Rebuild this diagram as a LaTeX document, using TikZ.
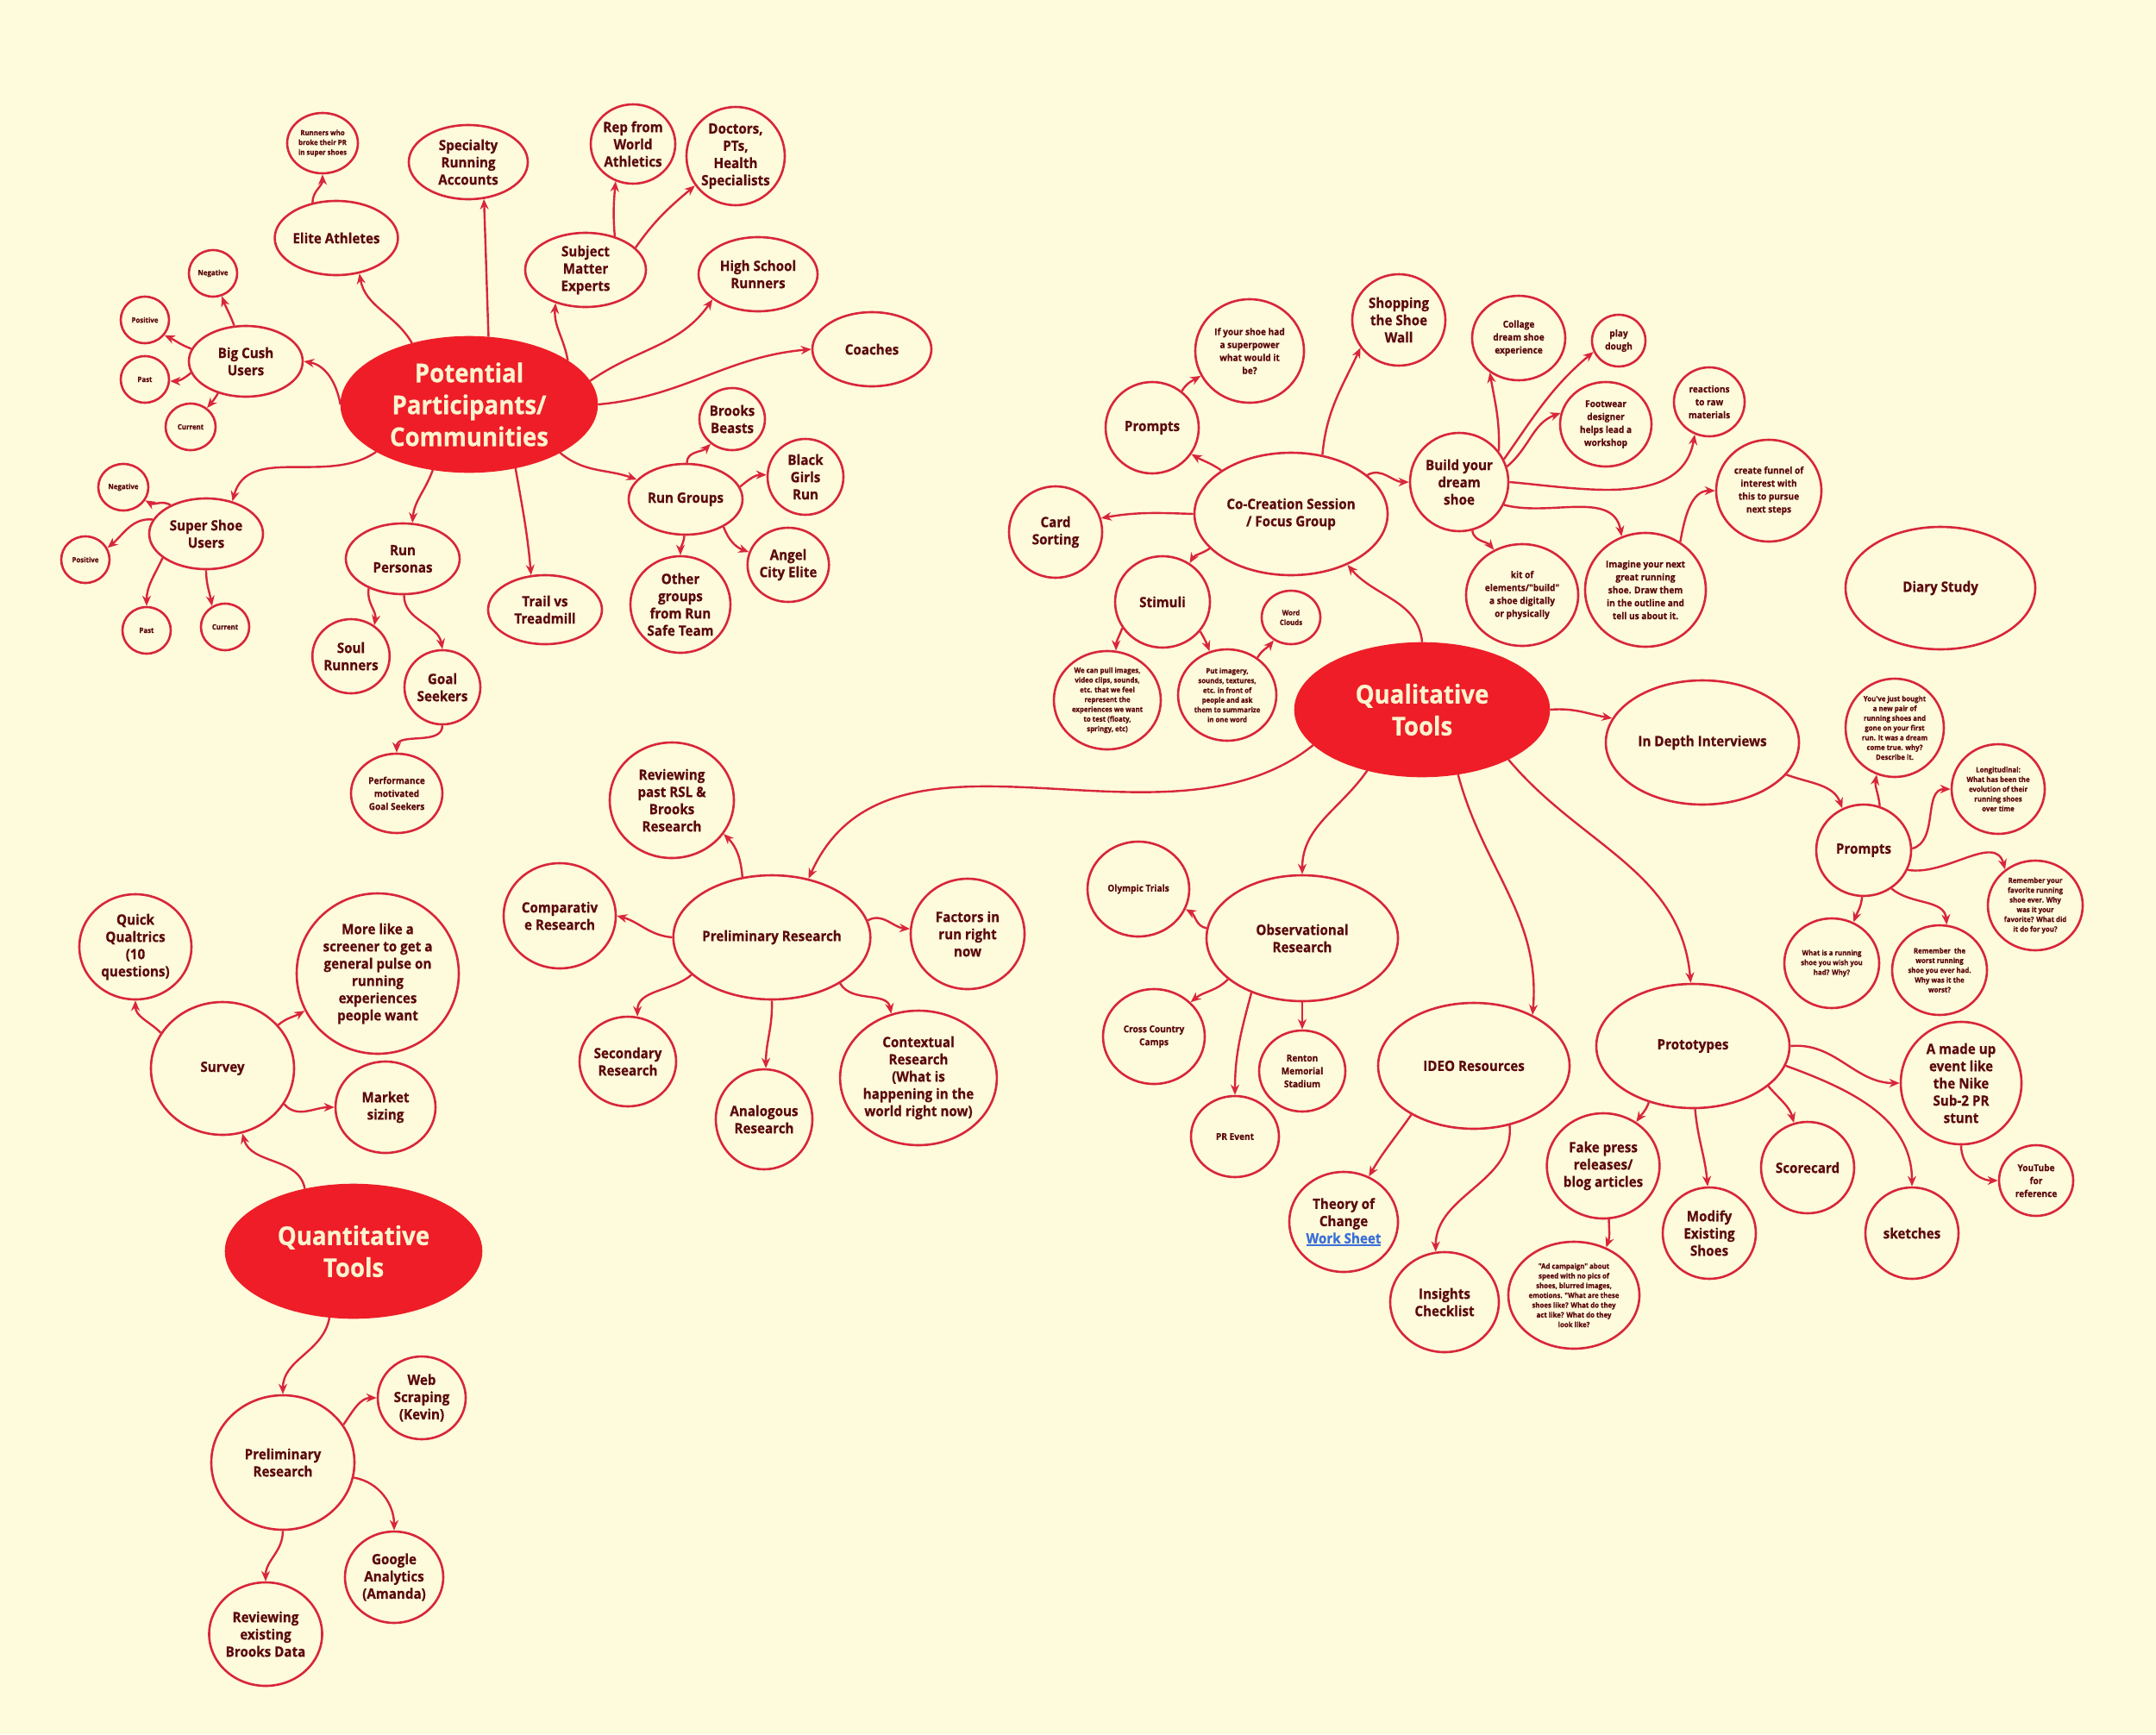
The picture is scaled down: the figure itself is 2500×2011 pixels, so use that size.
\documentclass[tikz,border=0pt]{standalone}
\usepackage{fontspec}
\usetikzlibrary{shapes.geometric,arrows.meta}
\newfontfamily\mapfont{Open Sans}[FakeStretch=0.92, FakeBold=0.6]
\definecolor{bg}{HTML}{FEFADC}
\definecolor{edge}{HTML}{D8263A}
\definecolor{hubred}{HTML}{EE1D27}
\definecolor{ink}{HTML}{5A0A0E}
\definecolor{cream}{HTML}{FDF3CF}
\definecolor{linkblue}{HTML}{3A6FD8}
\newcommand\linkline[1]{\leavevmode\setbox0\hbox{#1}\rlap{\rule[-2.8pt]{\wd0}{1.4pt}}\box0}
\newcommand\fbig{\mapfont\bfseries\fontsize{30}{37}\selectfont}
\newcommand\fmed{\mapfont\bfseries\fontsize{16.5}{20}\selectfont}
\newcommand\fsml{\mapfont\bfseries\fontsize{11}{15}\selectfont}
\newcommand\ftny{\mapfont\bfseries\fontsize{8.5}{11.3}\selectfont}
\tikzset{
  >={Stealth[length=12pt,width=10pt]},
  bub/.style 2 args={ellipse, draw=edge, line width=2.6pt, minimum width=#1pt, minimum height=#2pt,
                     inner sep=0pt, align=center, text=ink, font=\fmed},
  hub/.style 2 args={bub={#1}{#2}, fill=hubred, draw=hubred, text=cream, font=\fbig},
  sml/.style={font=\fsml},
  tny/.style={font=\ftny},
  flow/.style={->, draw=edge, line width=2.4pt}
}
\begin{document}
\begin{tikzpicture}[x=1pt, y=1pt]
\path[use as bounding box, fill=bg] (0,0) rectangle (2500,-2011);

\node[hub={296}{156}] (pp) at (544,-469) {Potential\\Participants/\\Communities};
\node[bub={82}{70}, tny] (runpr) at (374,-166) {Runners who\\broke their PR\\in super shoes};
\node[bub={138}{86}] (spec) at (543,-188) {Specialty\\Running\\Accounts};
\node[bub={94}{92}] (rep) at (734,-167) {Rep from\\World\\Athletics};
\node[bub={114}{114}] (doc) at (853,-181) {Doctors,\\PTs,\\Health\\Specialists};
\node[bub={140}{86}] (elite) at (390,-276) {Elite Athletes};
\node[bub={140}{86}] (sme) at (679,-313) {Subject\\Matter\\Experts};
\node[bub={138}{86}] (hs) at (879,-318) {High School\\Runners};
\node[bub={138}{86}] (coach) at (1011,-405) {Coaches};
\node[bub={132}{82}] (bc) at (285,-419) {Big Cush\\Users};
\node[bub={56}{54}, tny] (negbc) at (247,-317) {Negative};
\node[bub={56}{54}, tny] (posbc) at (168,-371) {Positive};
\node[bub={56}{54}, tny] (pastbc) at (168,-440) {Past};
\node[bub={58}{54}, tny] (curbc) at (221,-495) {Current};
\node[bub={132}{82}] (ss) at (239,-619) {Super Shoe\\Users};
\node[bub={58}{54}, tny] (negss) at (143,-565) {Negative};
\node[bub={56}{54}, tny] (posss) at (99,-649) {Positive};
\node[bub={56}{54}, tny] (pastss) at (170,-731) {Past};
\node[bub={56}{54}, tny] (curss) at (261,-727) {Current};
\node[bub={132}{82}] (rp) at (467,-648) {Run\\Personas};
\node[bub={86}{86}] (soul) at (407,-761) {Soul\\Runners};
\node[bub={88}{86}] (goal) at (513,-797) {Goal\\Seekers};
\node[bub={106}{92}, sml] (perf) at (460,-920) {Performance\\motivated\\Goal Seekers};
\node[bub={132}{80}] (tvt) at (632,-707) {Trail vs\\Treadmill};
\node[bub={132}{82}] (rg) at (795,-579) {Run Groups};
\node[bub={76}{72}] (bb) at (849,-486) {Brooks\\Beasts};
\node[bub={88}{88}] (bgr) at (934,-553) {Black\\Girls\\Run};
\node[bub={90}{86}] (ace) at (914,-655) {Angel\\City Elite};
\node[bub={116}{112}] (og) at (789,-701) {Other\\groups\\from Run\\Safe Team};

\node[hub={294}{154}] (qt) at (1649,-823) {Qualitative\\Tools};
\node[bub={224}{142}] (cc) at (1497,-596) {Co-Creation Session\\/ Focus Group};
\node[bub={108}{106}] (prc) at (1336,-496) {Prompts};
\node[bub={126}{120}, sml] (sup) at (1449,-407) {If your shoe had\\a superpower\\what would it\\be?};
\node[bub={108}{106}] (shop) at (1622,-371) {Shopping\\the Shoe\\Wall};
\node[bub={108}{106}] (card) at (1224,-617) {Card\\Sorting};
\node[bub={110}{106}] (stim) at (1348,-698) {Stimuli};
\node[bub={68}{62}, tny] (wc) at (1497,-716) {Word\\Clouds};
\node[bub={124}{114}, tny] (pull) at (1284,-812) {We can pull images,\\video clips, sounds,\\etc. that we feel\\represent the\\experiences we want\\to test (floaty,\\springy, etc)};
\node[bub={114}{106}, tny] (put) at (1423,-806) {Put imagery,\\sounds, textures,\\etc. in front of\\people and ask\\them to summarize\\in one word};
\node[bub={114}{114}] (build) at (1692,-559) {Build your\\dream\\shoe};
\node[bub={108}{98}, sml] (col) at (1761,-392) {Collage\\dream shoe\\experience};
\node[bub={62}{60}, sml] (play) at (1877,-395) {play\\dough};
\node[bub={106}{98}, sml] (foot) at (1862,-492) {Footwear\\designer\\helps lead a\\workshop};
\node[bub={82}{80}, sml] (react) at (1982,-466) {reactions\\to raw\\materials};
\node[bub={122}{118}, sml] (fun) at (2051,-569) {create funnel of\\interest with\\this to pursue\\next steps};
\node[bub={130}{118}, sml] (kit) at (1765,-690) {kit of\\elements/"build"\\a shoe digitally\\or physically};
\node[bub={140}{132}, sml] (imag) at (1908,-684) {Imagine your next\\great running\\shoe. Draw them\\in the outline and\\tell us about it.};
\node[bub={224}{144}] (idi) at (1974,-861) {In Depth Interviews};
\node[bub={110}{106}] (prm) at (2161,-986) {Prompts};
\node[bub={114}{114}, tny] (you) at (2197,-844) {You've just bought\\a new pair of\\running shoes and\\gone on your first\\run. It was a dream\\come true. why?\\Describe it.};
\node[bub={108}{104}, tny] (long) at (2317,-915) {Longitudinal:\\What has been the\\evolution of their\\running shoes\\over time};
\node[bub={110}{104}, tny] (fav) at (2360,-1050) {Remember your\\favorite running\\shoe ever. Why\\was it your\\favorite? What did\\it do for you?};
\node[bub={110}{104}, tny] (wish) at (2124,-1117) {What is a running\\shoe you wish you\\had? Why?};
\node[bub={110}{104}, tny] (worst) at (2249,-1125) {Remember~ the\\worst running\\shoe you ever had.\\Why was it the\\worst?};
\node[bub={220}{142}] (diary) at (2250,-682) {Diary Study};
\node[bub={222}{146}] (obs) at (1510,-1088) {Observational\\Research};
\node[bub={118}{110}, sml] (oly) at (1320,-1031) {Olympic Trials};
\node[bub={118}{110}, sml] (xc) at (1338,-1202) {Cross Country\\Camps};
\node[bub={100}{94}, sml] (ren) at (1510,-1242) {Renton\\Memorial\\Stadium};
\node[bub={102}{94}, sml] (pre) at (1432,-1318) {PR Event};
\node[bub={222}{146}] (ideo) at (1709,-1236) {IDEO Resources};
\node[bub={126}{116}] (toc) at (1558,-1417) {Theory of\\Change\\\textcolor{linkblue}{\linkline{Work Sheet}}};
\node[bub={126}{116}] (ins) at (1675,-1510) {Insights\\Checklist};
\node[bub={224}{144}] (proto) at (1963,-1213) {Prototypes};
\node[bub={140}{142}] (madeup) at (2274,-1256) {A made up\\event like\\the Nike\\Sub-2 PR\\stunt};
\node[bub={86}{82}, sml] (yt) at (2361,-1369) {YouTube\\for\\reference};
\node[bub={108}{106}] (score) at (2096,-1354) {Scorecard};
\node[bub={108}{106}] (sketch) at (2217,-1430) {sketches};
\node[bub={108}{106}] (mod) at (1982,-1430) {Modify\\Existing\\Shoes};
\node[bub={126}{122}] (fake) at (1859,-1352) {Fake press\\releases/\\blog articles};
\node[bub={152}{124}, tny] (ad) at (1825,-1502) {"Ad campaign" about\\speed with no pics of\\shoes, blurred images,\\emotions. "What are these\\shoes like? What do they\\act like? What do they\\look like?};
\node[bub={220}{144}] (prel) at (895,-1087) {Preliminary Research};
\node[bub={144}{134}] (rev) at (779,-928) {Reviewing\\past RSL \&\\Brooks\\Research};
\node[bub={130}{122}] (comp) at (649,-1062) {Comparativ\\e Research};
\node[bub={132}{128}] (fact) at (1122,-1083) {Factors in\\run right\\now};
\node[bub={112}{104}] (sec) at (728,-1231) {Secondary\\Research};
\node[bub={112}{116}] (ana) at (886,-1298) {Analogous\\Research};
\node[bub={178}{156}] (ctx) at (1065,-1250) {Contextual\\Research\\(What is\\happening in the\\world right now)};

\node[hub={296}{154}] (quant) at (410,-1451) {Quantitative\\Tools};
\node[bub={166}{154}] (survey) at (258,-1239) {Survey};
\node[bub={130}{122}] (qq) at (157,-1098) {Quick\\Qualtrics\\(10\\questions)};
\node[bub={188}{186}] (screen) at (438,-1129) {More like a\\screener to get a\\general pulse on\\running\\experiences\\people want};
\node[bub={116}{106}] (mkt) at (447,-1284) {Market\\sizing};
\node[bub={166}{156}] (qprel) at (328,-1696) {Preliminary\\Research};
\node[bub={102}{96}] (web) at (489,-1621) {Web\\Scraping\\(Kevin)};
\node[bub={114}{106}] (ga) at (457,-1829) {Google\\Analytics\\(Amanda)};
\node[bub={128}{120}] (rbd) at (308,-1895) {Reviewing\\existing\\Brooks Data};

\draw[flow] (pp.133) to[out=120,in=-80] (elite.-57);
\draw[flow] (elite.124) to[out=90,in=-90] (runpr.-90);
\draw[flow] (pp.74) to[out=92,in=-88] (spec.-67);
\draw[flow] (pp.24) to[out=100,in=-95] (sme.-132);
\draw[flow] (sme.49) to[out=95,in=-95] (rep.-115);
\draw[flow] (sme.24) to[out=55,in=-140] (doc.-144);
\draw[flow] (pp.11) to[out=35,in=-125] (hs.-151);
\draw[flow] (pp.0) to[out=5,in=185] (coach.180);
\draw[flow] (pp.180) to[out=100,in=-10] (bc.0);
\draw[flow] (bc.108) to[out=110,in=-70] (negbc.-69);
\draw[flow] (bc.167) to[out=160,in=-25] (posbc.-38);
\draw[flow] (bc.192) to[out=220,in=0] (pastbc.-4);
\draw[flow] (bc.229) to[out=240,in=50] (curbc.49);
\draw[flow] (pp.207) to[out=215,in=75] (ss.51);
\draw[flow] (ss.141) to[out=150,in=-30] (negss.-31);
\draw[flow] (ss.165) to[out=175,in=40] (posss.28);
\draw[flow] (ss.209) to[out=245,in=90] (pastss.90);
\draw[flow] (ss.-90) to[out=-90,in=100] (curss.122);
\draw[flow] (pp.241) to[out=250,in=85] (rp.75);
\draw[flow] (rp.221) to[out=260,in=80] (soul.53);
\draw[flow] (rp.-88) to[out=-90,in=100] (goal.90);
\draw[flow] (goal.-90) to[out=-90,in=90] (perf.90);
\draw[flow] (pp.-54) to[out=-80,in=95] (tvt.112);
\draw[flow] (pp.-28) to[out=-40,in=160] (rg.158);
\draw[flow] (rg.88) to[out=90,in=-135] (bb.-131);
\draw[flow] (rg.13) to[out=40,in=180] (bgr.177);
\draw[flow] (rg.-36) to[out=-70,in=160] (ace.162);
\draw[flow] (rg.-92) to[out=-95,in=90] (og.90);

\draw[flow] (qt.90) to[out=95,in=-50] (cc.-42);
\draw[flow] (cc.148) to[out=145,in=-30] (prc.-34);
\draw[flow] (prc.51) to[out=60,in=-150] (sup.-153);
\draw[flow] (cc.62) to[out=85,in=-115] (shop.-144);
\draw[flow] (cc.180) to[out=178,in=10] (card.17);
\draw[flow] (cc.203) to[out=215,in=60] (stim.55);
\draw[flow] (cc.27) to[out=30,in=180] (build.180);
\draw[flow] (stim.213) to[out=250,in=90] (pull.80);
\draw[flow] (stim.-38) to[out=-60,in=110] (put.112);
\draw[flow] (put.51) to[out=60,in=-130] (wc.-127);
\draw[flow] (build.38) to[out=88,in=-80] (col.-130);
\draw[flow] (build.27) to[out=55,in=-140] (play.-156);
\draw[flow] (build.18) to[out=40,in=-160] (foot.166);
\draw[flow] (build.0) to[out=-5,in=-100] (react.-114);
\draw[flow] (build.-27) to[out=-15,in=100] (imag.114);
\draw[flow] (build.-75) to[out=-80,in=130] (kit.122);
\draw[flow] (imag.54) to[out=80,in=180] (fun.180);
\draw[flow] (qt.0) to[out=5,in=170] (idi.165);
\draw[flow] (idi.-21) to[out=-20,in=110] (prm.117);
\draw[flow] (prm.70) to[out=95,in=-100] (you.-111);
\draw[flow] (prm.2) to[out=15,in=180] (long.180);
\draw[flow] (prm.-24) to[out=-10,in=105] (fav.130);
\draw[flow] (prm.268) to[out=265,in=70] (wish.62);
\draw[flow] (prm.-54) to[out=-40,in=95] (worst.81);
\draw[flow] (qt.228) to[out=235,in=90] (obs.90);
\draw[flow] (obs.174) to[out=170,in=-30] (oly.-23);
\draw[flow] (obs.209) to[out=225,in=40] (xc.43);
\draw[flow] (obs.227) to[out=255,in=90] (pre.90);
\draw[flow] (obs.270) to[out=270,in=90] (ren.90);
\draw[flow] (qt.-61) to[out=-75,in=85] (ideo.41);
\draw[flow] (ideo.218) to[out=235,in=60] (toc.61);
\draw[flow] (ideo.-59) to[out=-85,in=90] (ins.100);
\draw[flow] (qt.-30) to[out=-50,in=95] (proto.92);
\draw[flow] (proto.0) to[out=5,in=180] (madeup.180);
\draw[flow] (proto.-12) to[out=-20,in=90] (sketch.90);
\draw[flow] (proto.-28) to[out=-50,in=105] (score.107);
\draw[flow] (proto.-88) to[out=-85,in=95] (mod.92);
\draw[flow] (proto.232) to[out=250,in=55] (fake.53);
\draw[flow] (fake.-84) to[out=-88,in=70] (ad.56);
\draw[flow] (madeup.-90) to[out=-90,in=180] (yt.180);

\draw[flow] (qt.198) .. controls +(-171,-138) and +(94,210) .. (prel.58);
\draw[flow] (prel.116) to[out=95,in=-45] (rev.-33);
\draw[flow] (prel.180) to[out=175,in=-15] (comp.0);
\draw[flow] (prel.10) to[out=30,in=175] (fact.175);
\draw[flow] (prel.205) to[out=220,in=90] (sec.78);
\draw[flow] (prel.270) to[out=272,in=90] (ana.88);
\draw[flow] (prel.-34) to[out=-60,in=100] (ctx.113);

\draw[flow] (quant.128) to[out=100,in=-75] (survey.-73);
\draw[flow] (survey.150) to[out=135,in=-90] (qq.-90);
\draw[flow] (survey.38) to[out=40,in=-150] (screen.-153);
\draw[flow] (survey.-30) to[out=-50,in=180] (mkt.180);
\draw[flow] (quant.250) to[out=260,in=90] (qprel.90);
\draw[flow] (qprel.32) to[out=55,in=180] (web.180);
\draw[flow] (qprel.-12) to[out=-10,in=90] (ga.90);
\draw[flow] (qprel.-90) to[out=-90,in=90] (rbd.90);
\end{tikzpicture}
\end{document}
